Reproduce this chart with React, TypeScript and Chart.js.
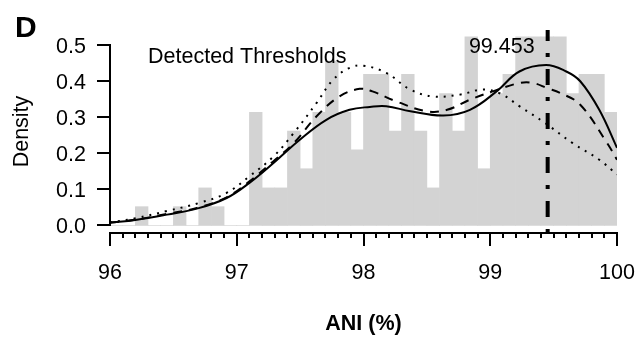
import { useEffect, useRef } from 'react';
import { Chart, registerables } from 'chart.js';

Chart.register(...registerables);

// Histogram bins (centres, width 0.1) and densities
const binCenters = [
  96.05, 96.15, 96.25, 96.35, 96.45, 96.55, 96.65, 96.75, 96.85, 96.95,
  97.05, 97.15, 97.25, 97.35, 97.45, 97.55, 97.65, 97.75, 97.85, 97.95,
  98.05, 98.15, 98.25, 98.35, 98.45, 98.55, 98.65, 98.75, 98.85, 98.95,
  99.05, 99.15, 99.25, 99.35, 99.45, 99.55, 99.65, 99.75, 99.85, 99.95,
];
const binDensity = [
  0, 0, 0.052, 0, 0, 0.052, 0, 0.104, 0.052, 0,
  0, 0.313, 0.104, 0.104, 0.261, 0.157, 0.313, 0.455, 0.313, 0.209,
  0.418, 0.418, 0.261, 0.418, 0.261, 0.104, 0.365, 0.261, 0.522, 0.157,
  0.365, 0.418, 0.522, 0.522, 0.522, 0.522, 0.365, 0.418, 0.418, 0.313,
];

// Density curves
const solidX = [96.0, 96.2, 96.45, 96.7, 96.92, 97.1, 97.29, 97.5, 97.71, 97.89, 98.05, 98.18, 98.37, 98.63, 98.84, 99.05, 99.23, 99.44, 99.6, 99.71, 99.86, 100.0];
const solidY = [0.008, 0.015, 0.03, 0.048, 0.076, 0.118, 0.173, 0.238, 0.293, 0.32, 0.328, 0.33, 0.316, 0.304, 0.32, 0.371, 0.426, 0.444, 0.426, 0.399, 0.32, 0.215];

const dashedX = [96.0, 96.2, 96.45, 96.7, 96.92, 97.1, 97.29, 97.45, 97.63, 97.81, 97.97, 98.07, 98.26, 98.5, 98.66, 98.84, 99.02, 99.23, 99.34, 99.45, 99.55, 99.71, 99.92, 100.0];
const dashedY = [0.008, 0.016, 0.032, 0.05, 0.078, 0.122, 0.178, 0.228, 0.302, 0.357, 0.378, 0.371, 0.343, 0.316, 0.32, 0.348, 0.371, 0.394, 0.394, 0.38, 0.367, 0.334, 0.229, 0.182];

const dottedX = [96.0, 96.2, 96.45, 96.71, 96.92, 97.1, 97.29, 97.45, 97.63, 97.76, 97.89, 98.0, 98.18, 98.37, 98.55, 98.76, 98.94, 99.08, 99.23, 99.43, 99.65, 99.86, 100.0];
const dottedY = [0.008, 0.02, 0.04, 0.063, 0.09, 0.136, 0.191, 0.256, 0.339, 0.403, 0.436, 0.442, 0.422, 0.376, 0.357, 0.362, 0.376, 0.365, 0.33, 0.284, 0.228, 0.182, 0.141];

const thresholdValue = 99.453;
const thresholdLabel = '99.453';

const yTicks = [0, 0.1, 0.2, 0.3, 0.4, 0.5];
const yTickLabels = ['0.0', '0.1', '0.2', '0.3', '0.4', '0.5'];
const xTicks = [96, 97, 98, 99, 100];
const xTickLabels = ['96', '97', '98', '99', '100'];

const Y_MIN = -0.0208;
const Y_MAX = 0.5408;
const FONT = '"Liberation Sans", Arial, Helvetica, sans-serif';

const rAxesPlugin = {
  id: 'rAxes',
  afterDraw(chart: any) {
    const { ctx, chartArea } = chart;
    const xs = chart.scales.x;
    const ys = chart.scales.y;
    ctx.save();
    ctx.strokeStyle = '#000';
    ctx.fillStyle = '#000';
    ctx.lineWidth = 2;
    ctx.lineCap = 'butt';

    // Y axis
    const ax = Math.round(chartArea.left);
    ctx.beginPath();
    ctx.moveTo(ax, ys.getPixelForValue(yTicks[0]));
    ctx.lineTo(ax, ys.getPixelForValue(yTicks[yTicks.length - 1]));
    ctx.stroke();
    ctx.font = `21.5px ${FONT}`;
    ctx.textAlign = 'right';
    ctx.textBaseline = 'middle';
    yTicks.forEach((v, i) => {
      const py = Math.round(ys.getPixelForValue(v));
      ctx.beginPath();
      ctx.moveTo(ax + 1, py);
      ctx.lineTo(ax - 13, py);
      ctx.stroke();
      ctx.fillText(yTickLabels[i], ax - 24, py + 2);
    });

    // X axis
    const ay = Math.round(chartArea.bottom);
    ctx.beginPath();
    ctx.moveTo(xs.getPixelForValue(xTicks[0]) - 1, ay);
    ctx.lineTo(xs.getPixelForValue(xTicks[xTicks.length - 1]) + 1, ay);
    ctx.stroke();
    for (let k = 0; k <= 40; k++) {
      const v = 96 + k / 10;
      const px = Math.round(xs.getPixelForValue(v));
      const major = k % 10 === 0;
      ctx.beginPath();
      ctx.moveTo(px, ay);
      ctx.lineTo(px, ay + (major ? 13 : 5));
      ctx.stroke();
    }
    ctx.textAlign = 'center';
    ctx.textBaseline = 'alphabetic';
    xTicks.forEach((v, i) => {
      ctx.fillText(xTickLabels[i], xs.getPixelForValue(v), ay + 46);
    });

    // Annotations
    ctx.textAlign = 'left';
    ctx.fillText('Detected Thresholds', 148, 63);
    ctx.textAlign = 'right';
    ctx.fillText(thresholdLabel, xs.getPixelForValue(thresholdValue) - 13, 53);

    // Panel letter
    ctx.font = `bold 30px ${FONT}`;
    ctx.textAlign = 'left';
    ctx.fillText('D', 15, 37);

    // Axis titles
    ctx.font = `bold 21.5px ${FONT}`;
    ctx.textAlign = 'center';
    ctx.fillText('ANI (%)', (chartArea.left + chartArea.right) / 2, 330);

    ctx.font = `21.5px ${FONT}`;
    ctx.translate(28, (chartArea.top + chartArea.bottom) / 2);
    ctx.rotate(-Math.PI / 2);
    ctx.textAlign = 'center';
    ctx.textBaseline = 'alphabetic';
    ctx.fillText('Density', 0, 0);
    ctx.restore();
  },
};

const toPts = (xs: number[], ys: number[]) => xs.map((x, i) => ({ x, y: ys[i] }));

export default function App() {
  const ref = useRef<HTMLCanvasElement | null>(null);
  useEffect(() => {
    if (!ref.current) return;
    const chart = new Chart(ref.current, {
      type: 'bar',
      data: {
        datasets: [
          {
            type: 'bar',
            data: toPts(binCenters, binDensity),
            backgroundColor: '#d3d3d3',
            borderWidth: 0,
            barPercentage: 1,
            categoryPercentage: 1,
            order: 5,
          } as any,
          {
            type: 'line',
            data: toPts(dottedX, dottedY),
            borderColor: '#000',
            borderWidth: 2,
            borderDash: [2, 6],
            borderCapStyle: 'butt',
            pointRadius: 0,
            tension: 0.4,
            fill: false,
            order: 4,
          } as any,
          {
            type: 'line',
            data: toPts(dashedX, dashedY),
            borderColor: '#000',
            borderWidth: 2,
            borderDash: [9, 7],
            borderCapStyle: 'butt',
            pointRadius: 0,
            tension: 0.4,
            fill: false,
            order: 3,
          } as any,
          {
            type: 'line',
            data: toPts(solidX, solidY),
            borderColor: '#000',
            borderWidth: 2,
            pointRadius: 0,
            tension: 0.4,
            fill: false,
            order: 2,
          } as any,
          {
            type: 'line',
            data: [
              { x: thresholdValue, y: Y_MIN },
              { x: thresholdValue, y: Y_MAX },
            ],
            borderColor: '#000',
            borderWidth: 4,
            borderDash: [4, 12, 16, 12],
            borderCapStyle: 'butt',
            pointRadius: 0,
            fill: false,
            order: 1,
          } as any,
        ],
      },
      options: {
        responsive: false,
        animation: false,
        events: [],
        layout: { padding: { left: 110, right: 20, top: 30, bottom: 106 } },
        scales: {
          x: { type: 'linear', min: 96, max: 100, display: false, offset: false },
          y: { type: 'linear', min: Y_MIN, max: Y_MAX, display: false },
        },
        plugins: { legend: { display: false }, tooltip: { enabled: false } },
      },
      plugins: [rAxesPlugin],
    } as any);
    return () => chart.destroy();
  }, []);
  return (
    <div style={{ position: 'absolute', left: 0, top: 0, width: 637, height: 339, background: '#fff' }}>
      <canvas ref={ref} width={637} height={339} style={{ display: 'block' }} />
    </div>
  );
}
